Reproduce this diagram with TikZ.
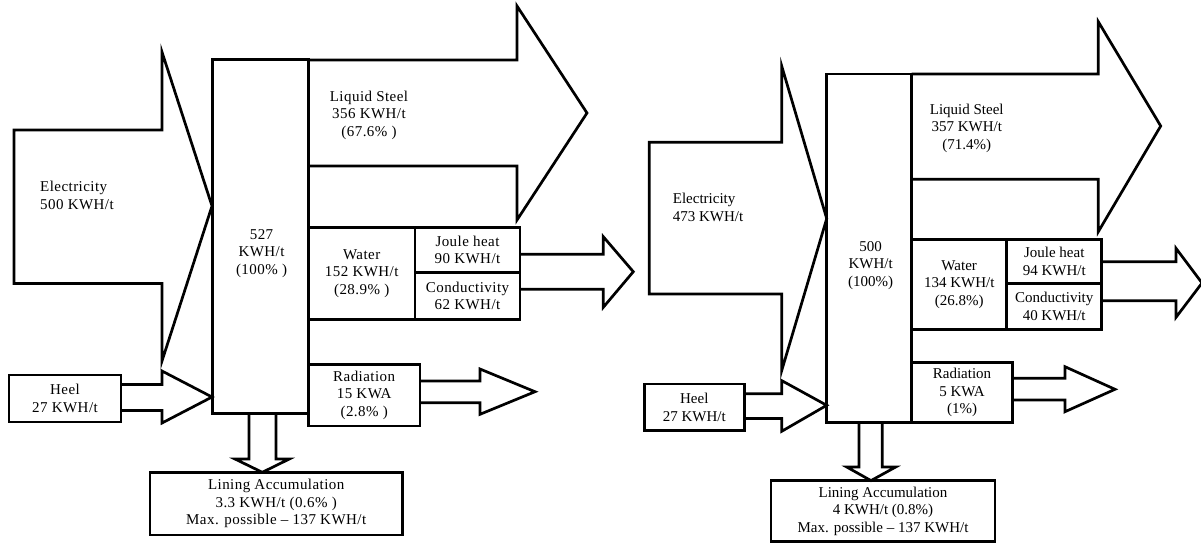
\documentclass[tikz,border=0pt]{standalone}
\usepackage{fontspec}
\setmainfont{Liberation Serif}
\newfontfamily\sparsefont[LetterSpace=3]{Liberation Serif}
\usepackage{tikz}

\tikzset{
  flow/.style={line width=2.7pt, line join=miter},
  box/.style={draw, line width=2.7pt, inner sep=0pt, align=center},
  txt/.style={align=center, inner sep=0pt},
}

\begin{document}
\begin{tikzpicture}[x=1pt,y=-1pt,font=\fontsize{15}{17.5}\selectfont]
\useasboundingbox (0,0) rectangle (1201,544);

%%%% left furnace
\begin{scope}[font=\fontsize{15}{17.5}\sparsefont]
% arrows first
\draw[flow] (14,130) -- (162,130) -- (162,52) -- (212,206) -- (162,361) -- (162,283.5) -- (14,283.5) -- cycle;
\draw[flow] (121,384.5) -- (162,384.5) -- (162,371) -- (212,397) -- (162,423) -- (162,410.5) -- (121,410.5);
\draw[flow] (308,60) -- (517,60) -- (517,6) -- (587,113) -- (517,220) -- (517,166) -- (308,166);
\draw[flow] (520,254.3) -- (603.3,254.3) -- (603.3,236.7) -- (633.3,271.7) -- (603.3,307.3) -- (603.3,289.3) -- (520,289.3);
\draw[flow] (420,381) -- (480,381) -- (480,369) -- (535,391.7) -- (480,414.3) -- (480,402.7) -- (420,402.7);
\draw[flow] (249,413) -- (249,459) -- (235,459) -- (262.3,472.3) -- (289.3,459) -- (276,459) -- (276,413);
% boxes
\node[box, minimum width=95.6, minimum height=353.6] (furnL) at (260.5,236.5) {};
\node[box, minimum width=112, minimum height=47] (heelL) at (65,398.5) {Heel\\27 KWH/t};
\node[box, minimum width=106.7, minimum height=92] (waterL) at (361.7,273.3) {Water\\152 KWH/t\\(28.9\% )};
\node[box, minimum width=105, minimum height=45.4] (jouleL) at (467.5,250) {Joule heat\\90 KWH/t};
\node[box, minimum width=105, minimum height=46.6] (condL) at (467.5,296) {Conductivity\\62 KWH/t};
\node[box, minimum width=111.7, minimum height=61.7] (radL) at (364.2,395.2) {Radiation\\15 KWA\\(2.8\% )};
\node[box, minimum width=252.3, minimum height=62.7] (liningL) at (276.2,503.7) {Lining Accumulation\\3.3 KWH/t (0.6\% )\\Max. possible \textendash{} 137 KWH/t};
% labels
\node[txt, align=left, anchor=west] (elecL) at (40,195.5) {Electricity\\500 KWH/t};
\node[txt] (totalL) at (261.5,253.5) {527\\KWH/t\\(100\% )};
\node[txt] (steelL) at (369,115) {Liquid Steel\\356 KWH/t\\(67.6\% )};
\end{scope}

%%%% right furnace
% arrows first
\draw[flow] (649.3,142.3) -- (781.7,142.3) -- (781.7,66) -- (826.7,218.6) -- (781.7,370.6) -- (781.7,294) -- (649.3,294) -- cycle;
\draw[flow] (744.3,393.8) -- (781.7,393.8) -- (781.7,380.6) -- (826.7,405.3) -- (781.7,431.3) -- (781.7,418.5) -- (744.3,418.5);
\draw[flow] (911.7,74) -- (1098.3,74) -- (1098.3,21.7) -- (1160.7,126) -- (1098.3,231.7) -- (1098.3,179.3) -- (911.7,179.3);
\draw[flow] (1101.7,261.7) -- (1176,261.7) -- (1176,248.3) -- (1202,283) -- (1176,317.3) -- (1176,300.7) -- (1101.7,300.7);
\draw[flow] (1012.3,378.3) -- (1065,378.3) -- (1065,366.7) -- (1115,389.3) -- (1065,411.7) -- (1065,400) -- (1012.3,400);
\draw[flow] (859,422.5) -- (859,467) -- (846.7,467) -- (871,480.6) -- (895.7,467) -- (882.3,467) -- (882.3,422.5);
% boxes
\node[box, minimum width=85, minimum height=348.5] (furnR) at (869.2,248.2) {};
\node[box, minimum width=100, minimum height=46.3] (heelR) at (694.3,407.2) {Heel\\27 KWH/t};
\node[box, minimum width=95, minimum height=90] (waterR) at (959.2,284.3) {Water\\134 KWH/t\\(26.8\%)};
\node[box, minimum width=95, minimum height=44] (jouleR) at (1054.2,261.3) {Joule heat\\94 KWH/t};
\node[box, minimum width=95, minimum height=46] (condR) at (1054.2,306.3) {Conductivity\\40 KWH/t};
\node[box, minimum width=100.6, minimum height=59.6] (radR) at (962,392.5) {Radiation\\5 KWA\\(1\%)};
\node[box, minimum width=224, minimum height=61.1] (liningR) at (883,511.2) {Lining Accumulation\\4 KWH/t (0.8\%)\\Max. possible \textendash{} 137 KWH/t};
% labels
\node[txt, align=left, anchor=west] (elecR) at (672.7,207.6) {Electricity\\473 KWH/t};
\node[txt] (totalR) at (870.7,265.4) {500\\KWH/t\\(100\%)};
\node[txt] (steelR) at (966.7,128.3) {Liquid Steel\\357 KWH/t\\(71.4\%)};
\end{tikzpicture}
\end{document}
